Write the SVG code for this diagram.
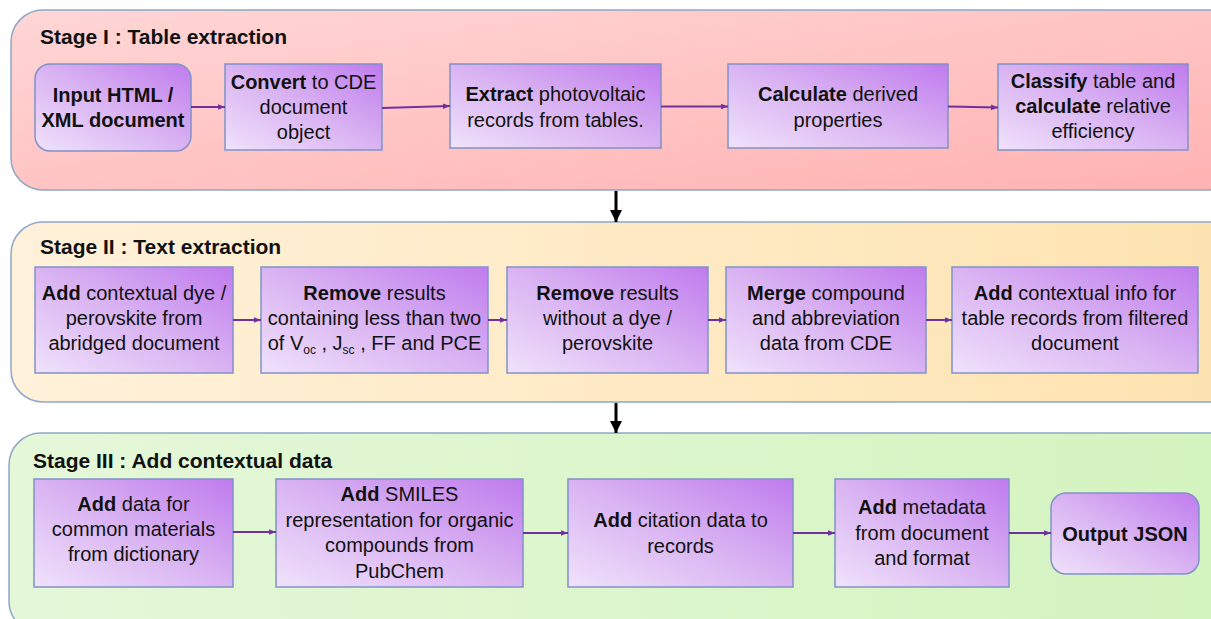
<svg xmlns="http://www.w3.org/2000/svg" width="1211" height="619" viewBox="0 0 1211 619">
<defs>
<linearGradient id="gNode" x1="0" y1="1" x2="1" y2="0">
<stop offset="0" stop-color="#f0e2fb"/>
<stop offset="0.5" stop-color="#d9b3f2"/>
<stop offset="1" stop-color="#c07bee"/>
</linearGradient>
<linearGradient id="gS1" x1="0" y1="0" x2="1" y2="1">
<stop offset="0" stop-color="#ffd6d6"/>
<stop offset="1" stop-color="#ffb2b2"/>
</linearGradient>
<linearGradient id="gS2" x1="0" y1="0" x2="1" y2="0">
<stop offset="0" stop-color="#fff1da"/>
<stop offset="1" stop-color="#fde3b0"/>
</linearGradient>
<linearGradient id="gS3" x1="0" y1="0" x2="1" y2="0">
<stop offset="0" stop-color="#e5f7d9"/>
<stop offset="1" stop-color="#d4f4bf"/>
</linearGradient>
<marker id="mP" viewBox="0 0 10 10" refX="10" refY="5" markerWidth="7" markerHeight="7" markerUnits="userSpaceOnUse" orient="auto">
<path d="M0,1 L10,5 L0,9 z" fill="#7030a0"/>
</marker>
<marker id="mK" viewBox="0 0 10 10" refX="10" refY="5" markerWidth="12" markerHeight="12" markerUnits="userSpaceOnUse" orient="auto">
<path d="M0,0 L10,5 L0,10 z" fill="#000"/>
</marker>
</defs>
<style>
.stage{stroke:#8fa8c6;stroke-width:1.5}
.node{fill:url(#gNode);stroke:#8092c8;stroke-width:1.5}
text{font-family:"Liberation Sans",Arial,sans-serif;fill:#111}
.title{font-size:21px;font-weight:bold}
.t{font-size:20px;text-anchor:middle}
.b{font-weight:bold}
.sub{font-size:12px}
.conn{stroke:#7030a0;stroke-width:2;fill:none;marker-end:url(#mP)}
.down{stroke:#000;stroke-width:3;fill:none;marker-end:url(#mK)}
</style>

<g id="stage1">
<rect class="stage" x="11" y="10" width="1230" height="180" rx="32" fill="url(#gS1)"/>
<text class="title" x="40" y="44">Stage I : Table extraction</text>
</g>
<g id="stage2">
<rect class="stage" x="11" y="222" width="1230" height="180" rx="32" fill="url(#gS2)"/>
<text class="title" x="40" y="254">Stage II : Text extraction</text>
</g>
<g id="stage3">
<rect class="stage" x="9" y="433" width="1232" height="200" rx="32" fill="url(#gS3)"/>
<text class="title" x="33" y="468">Stage III : Add contextual data</text>
</g>

<g id="n-input">
<rect class="node" x="35" y="64" width="156" height="87" rx="15"/>
<text class="t b" x="113" y="102">Input HTML /</text>
<text class="t b" x="113" y="127">XML document</text>
</g>
<g id="n-convert">
<rect class="node" x="225" y="64" width="157" height="86"/>
<text class="t" x="303.5" y="89"><tspan class="b">Convert</tspan> to CDE</text>
<text class="t" x="303.5" y="114">document</text>
<text class="t" x="303.5" y="139">object</text>
</g>
<g id="n-extract">
<rect class="node" x="450" y="64" width="211" height="84"/>
<text class="t" x="555.5" y="101"><tspan class="b">Extract</tspan> photovoltaic</text>
<text class="t" x="555.5" y="127">records from tables.</text>
</g>
<g id="n-calc">
<rect class="node" x="728" y="64" width="220" height="84"/>
<text class="t" x="838" y="101"><tspan class="b">Calculate</tspan> derived</text>
<text class="t" x="838" y="127">properties</text>
</g>
<g id="n-classify">
<rect class="node" x="998" y="64" width="190" height="86"/>
<text class="t" x="1093" y="88"><tspan class="b">Classify</tspan> table and</text>
<text class="t" x="1093" y="113"><tspan class="b">calculate</tspan> relative</text>
<text class="t" x="1093" y="138">efficiency</text>
</g>

<g id="n-adddye">
<rect class="node" x="35" y="267" width="198" height="106"/>
<text class="t" x="134" y="300"><tspan class="b">Add</tspan> contextual dye /</text>
<text class="t" x="134" y="325">perovskite from</text>
<text class="t" x="134" y="350">abridged document</text>
</g>
<g id="n-remove1">
<rect class="node" x="261" y="267" width="227" height="106"/>
<text class="t" x="374.5" y="300"><tspan class="b">Remove</tspan> results</text>
<text class="t" x="374.5" y="325">containing less than two</text>
<text class="t" x="374.5" y="350">of V<tspan class="sub" dy="4">oc</tspan><tspan dy="-4"> , J</tspan><tspan class="sub" dy="4">sc</tspan><tspan dy="-4"> , FF and PCE</tspan></text>
</g>
<g id="n-remove2">
<rect class="node" x="507" y="267" width="201" height="106"/>
<text class="t" x="607.5" y="300"><tspan class="b">Remove</tspan> results</text>
<text class="t" x="607.5" y="325">without a dye /</text>
<text class="t" x="607.5" y="350">perovskite</text>
</g>
<g id="n-merge">
<rect class="node" x="726" y="267" width="200" height="106"/>
<text class="t" x="826" y="300"><tspan class="b">Merge</tspan> compound</text>
<text class="t" x="826" y="325">and abbreviation</text>
<text class="t" x="826" y="350">data from CDE</text>
</g>
<g id="n-addinfo">
<rect class="node" x="952" y="267" width="246" height="106"/>
<text class="t" x="1075" y="300"><tspan class="b">Add</tspan> contextual info for</text>
<text class="t" x="1075" y="325">table records from filtered</text>
<text class="t" x="1075" y="350">document</text>
</g>

<g id="n-adddata">
<rect class="node" x="34" y="479" width="199" height="108"/>
<text class="t" x="133.5" y="511"><tspan class="b">Add</tspan> data for</text>
<text class="t" x="133.5" y="536">common materials</text>
<text class="t" x="133.5" y="561">from dictionary</text>
</g>
<g id="n-smiles">
<rect class="node" x="276" y="479" width="247" height="108"/>
<text class="t" x="399.5" y="501"><tspan class="b">Add</tspan> SMILES</text>
<text class="t" x="399.5" y="527">representation for organic</text>
<text class="t" x="399.5" y="552">compounds from</text>
<text class="t" x="399.5" y="578">PubChem</text>
</g>
<g id="n-citation">
<rect class="node" x="568" y="479" width="225" height="108"/>
<text class="t" x="680.5" y="527"><tspan class="b">Add</tspan> citation data to</text>
<text class="t" x="680.5" y="553">records</text>
</g>
<g id="n-metadata">
<rect class="node" x="835" y="479" width="174" height="108"/>
<text class="t" x="922" y="514"><tspan class="b">Add</tspan> metadata</text>
<text class="t" x="922" y="539.5">from document</text>
<text class="t" x="922" y="565">and format</text>
</g>
<g id="n-output">
<rect class="node" x="1051" y="493" width="148" height="81" rx="15"/>
<text class="t b" x="1125" y="541">Output JSON</text>
</g>

<g id="connectors">
<line class="conn" x1="191" y1="107" x2="225" y2="107"/>
<line class="conn" x1="382" y1="108" x2="450" y2="106"/>
<line class="conn" x1="661" y1="106.5" x2="728" y2="106.5"/>
<line class="conn" x1="948" y1="106.5" x2="998" y2="107.5"/>
<line class="conn" x1="233" y1="320" x2="261" y2="320"/>
<line class="conn" x1="488" y1="320" x2="507" y2="320"/>
<line class="conn" x1="708" y1="320" x2="726" y2="320"/>
<line class="conn" x1="926" y1="320" x2="952" y2="320"/>
<line class="conn" x1="233" y1="532" x2="276" y2="532"/>
<line class="conn" x1="523" y1="533" x2="568" y2="533"/>
<line class="conn" x1="793" y1="533" x2="835" y2="533"/>
<line class="conn" x1="1009" y1="533" x2="1051" y2="533"/>
<line class="down" x1="616" y1="191" x2="616" y2="222"/>
<line class="down" x1="616" y1="403" x2="616" y2="433"/>
</g>
</svg>
